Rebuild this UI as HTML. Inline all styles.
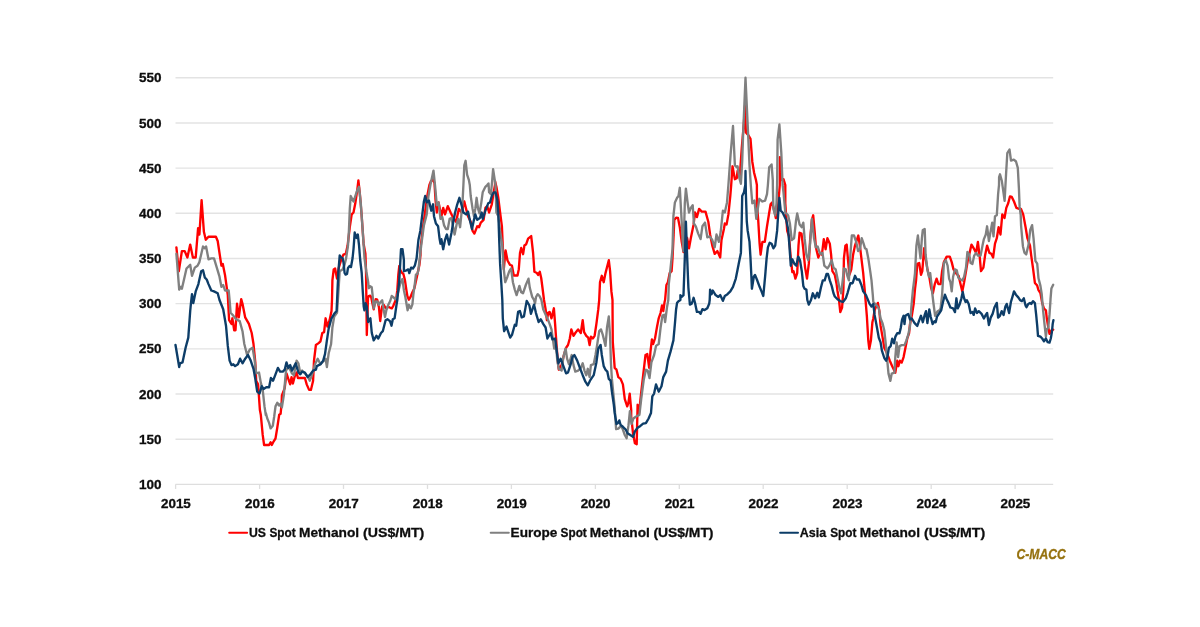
<!DOCTYPE html>
<html lang="en">
<head>
<meta charset="utf-8">
<title>Spot Methanol Prices</title>
<style>
html,body{margin:0;padding:0;background:#ffffff;}
body{width:1200px;height:627px;overflow:hidden;font-family:"Liberation Sans",Arial,sans-serif;}
svg{display:block;}
</style>
</head>
<body>
<svg width="1200" height="627" viewBox="0 0 1200 627">
<rect width="1200" height="627" fill="#ffffff"/>
<g stroke="#e3e3e3" stroke-width="1.4" fill="none">
<line x1="175.5" y1="439.18" x2="1053.2" y2="439.18"/>
<line x1="175.5" y1="394.00" x2="1053.2" y2="394.00"/>
<line x1="175.5" y1="348.83" x2="1053.2" y2="348.83"/>
<line x1="175.5" y1="303.65" x2="1053.2" y2="303.65"/>
<line x1="175.5" y1="258.48" x2="1053.2" y2="258.48"/>
<line x1="175.5" y1="213.30" x2="1053.2" y2="213.30"/>
<line x1="175.5" y1="168.13" x2="1053.2" y2="168.13"/>
<line x1="175.5" y1="122.95" x2="1053.2" y2="122.95"/>
<line x1="175.5" y1="77.78" x2="1053.2" y2="77.78"/>
</g>
<g stroke="#dedede" stroke-width="1.3" fill="none">
<line x1="175.5" y1="484.35" x2="1053.2" y2="484.35"/>
<line x1="175.6" y1="484.35" x2="175.6" y2="488.95"/>
<line x1="259.6" y1="484.35" x2="259.6" y2="488.95"/>
<line x1="343.5" y1="484.35" x2="343.5" y2="488.95"/>
<line x1="427.5" y1="484.35" x2="427.5" y2="488.95"/>
<line x1="511.4" y1="484.35" x2="511.4" y2="488.95"/>
<line x1="595.4" y1="484.35" x2="595.4" y2="488.95"/>
<line x1="679.3" y1="484.35" x2="679.3" y2="488.95"/>
<line x1="763.2" y1="484.35" x2="763.2" y2="488.95"/>
<line x1="847.2" y1="484.35" x2="847.2" y2="488.95"/>
<line x1="931.2" y1="484.35" x2="931.2" y2="488.95"/>
<line x1="1015.1" y1="484.35" x2="1015.1" y2="488.95"/>
</g>
<g font-family="'Liberation Sans', Arial, sans-serif" font-weight="bold" font-size="12.8px" fill="#0d0d0d" stroke="#0d0d0d" stroke-width="0.3">
<text x="161.6" y="489.0" text-anchor="end" textLength="22.5" lengthAdjust="spacingAndGlyphs">100</text>
<text x="161.6" y="443.8" text-anchor="end" textLength="22.5" lengthAdjust="spacingAndGlyphs">150</text>
<text x="161.6" y="398.6" text-anchor="end" textLength="22.5" lengthAdjust="spacingAndGlyphs">200</text>
<text x="161.6" y="353.4" text-anchor="end" textLength="22.5" lengthAdjust="spacingAndGlyphs">250</text>
<text x="161.6" y="308.3" text-anchor="end" textLength="22.5" lengthAdjust="spacingAndGlyphs">300</text>
<text x="161.6" y="263.1" text-anchor="end" textLength="22.5" lengthAdjust="spacingAndGlyphs">350</text>
<text x="161.6" y="217.9" text-anchor="end" textLength="22.5" lengthAdjust="spacingAndGlyphs">400</text>
<text x="161.6" y="172.7" text-anchor="end" textLength="22.5" lengthAdjust="spacingAndGlyphs">450</text>
<text x="161.6" y="127.6" text-anchor="end" textLength="22.5" lengthAdjust="spacingAndGlyphs">500</text>
<text x="161.6" y="82.4" text-anchor="end" textLength="22.5" lengthAdjust="spacingAndGlyphs">550</text>
<text x="175.9" y="508.0" text-anchor="middle" textLength="29.9" lengthAdjust="spacingAndGlyphs">2015</text>
<text x="259.9" y="508.0" text-anchor="middle" textLength="29.9" lengthAdjust="spacingAndGlyphs">2016</text>
<text x="343.8" y="508.0" text-anchor="middle" textLength="29.9" lengthAdjust="spacingAndGlyphs">2017</text>
<text x="427.8" y="508.0" text-anchor="middle" textLength="29.9" lengthAdjust="spacingAndGlyphs">2018</text>
<text x="511.7" y="508.0" text-anchor="middle" textLength="29.9" lengthAdjust="spacingAndGlyphs">2019</text>
<text x="595.6" y="508.0" text-anchor="middle" textLength="29.9" lengthAdjust="spacingAndGlyphs">2020</text>
<text x="679.6" y="508.0" text-anchor="middle" textLength="29.9" lengthAdjust="spacingAndGlyphs">2021</text>
<text x="763.5" y="508.0" text-anchor="middle" textLength="29.9" lengthAdjust="spacingAndGlyphs">2022</text>
<text x="847.5" y="508.0" text-anchor="middle" textLength="29.9" lengthAdjust="spacingAndGlyphs">2023</text>
<text x="931.5" y="508.0" text-anchor="middle" textLength="29.9" lengthAdjust="spacingAndGlyphs">2024</text>
<text x="1015.4" y="508.0" text-anchor="middle" textLength="29.9" lengthAdjust="spacingAndGlyphs">2025</text>
</g>
<defs><filter id="soft" x="-2%" y="-2%" width="104%" height="104%"><feGaussianBlur stdDeviation="0.35"/></filter></defs>
<g fill="none" stroke-width="2.35" stroke-linejoin="round" stroke-linecap="round" filter="url(#soft)">
<path stroke="#ff0000" d="M176.4 247.4 L178.8 271.2 L181.9 251.1 L184.7 251.1 L187.4 257.5 L190.2 244.6 L192.9 257.5 L195.7 257.5 L198.1 228.1 L199.4 234.5 L201.6 200.2 L203.9 231.8 L205.8 239.7 L208.5 236.7 L215.9 236.7 L217.7 241.0 L221.4 265.7 L222.8 263.9 L225.0 274.9 L227.8 295.1 L229.1 320.2 L231.5 323.9 L232.4 318.3 L234.2 330.3 L235.5 330.3 L237.0 303.7 L238.8 317.4 L241.2 299.1 L242.5 303.7 L245.2 317.4 L248.9 323.9 L251.7 333.0 L253.5 344.0 L255.3 362.4 L256.2 380.7 L258.1 384.4 L259.9 410.1 L260.8 414.7 L262.7 434.9 L264.1 445.0 L269.1 445.0 L270.6 442.2 L271.8 445.0 L273.7 441.3 L275.5 438.5 L277.3 427.5 L279.2 414.7 L280.6 413.8 L281.6 403.7 L281.9 395.4 L284.7 388.1 L286.5 373.4 L288.3 378.9 L290.2 384.4 L291.5 377.1 L292.9 383.5 L294.8 376.1 L296.6 372.5 L297.9 378.0 L304.9 378.0 L306.7 384.4 L309.1 389.9 L310.9 389.9 L313.1 380.7 L314.0 360.6 L315.9 345.0 L318.6 343.1 L320.5 341.3 L322.3 333.0 L324.1 332.1 L325.6 318.3 L327.4 326.6 L329.6 320.2 L331.5 311.0 L332.0 300.0 L332.4 280.4 L333.7 269.4 L335.1 268.5 L337.0 278.6 L338.8 267.6 L341.6 258.4 L343.4 254.7 L345.8 253.8 L347.6 245.6 L349.8 227.2 L351.7 214.4 L353.5 212.5 L355.3 203.3 L357.2 190.5 L358.4 180.4 L359.9 194.2 L361.7 216.2 L363.6 243.7 L365.4 253.8 L366.0 270.0 L366.8 335.0 L368.0 298.0 L368.7 296.2 L370.2 295.7 L371.2 297.2 L372.2 302.3 L373.7 309.3 L374.7 303.3 L375.7 299.2 L377.2 299.7 L378.2 304.3 L378.9 307.0 L380.2 321.0 L381.3 312.0 L382.2 306.3 L383.7 304.8 L385.2 307.3 L386.3 308.3 L388.3 306.8 L390.3 307.8 L391.8 308.3 L393.3 305.8 L394.8 302.3 L396.3 298.2 L397.3 290.2 L398.3 275.0 L399.3 266.0 L400.3 270.0 L401.8 272.6 L403.4 274.0 L404.9 280.0 L406.4 290.2 L407.4 296.2 L408.9 299.7 L410.4 297.2 L412.4 292.2 L414.4 288.2 L416.4 279.0 L417.9 272.0 L419.4 265.0 L420.5 255.0 L420.6 247.4 L423.0 227.2 L425.8 207.0 L427.6 194.2 L429.4 185.0 L431.0 181.0 L433.0 180.0 L434.5 183.0 L434.6 185.0 L435.5 199.7 L436.8 212.5 L438.6 202.4 L441.4 216.2 L443.2 207.9 L445.0 214.4 L447.8 206.1 L450.6 212.5 L453.3 218.0 L456.1 221.7 L458.8 208.9 L461.6 212.5 L464.3 201.5 L466.1 208.9 L468.0 216.2 L470.7 221.7 L472.6 230.9 L474.4 233.6 L477.2 226.3 L479.0 227.2 L480.8 222.6 L483.6 219.9 L485.4 207.9 L487.2 206.1 L489.1 212.5 L491.8 204.3 L493.7 192.3 L495.0 185.0 L495.0 181.0 L496.4 186.8 L498.3 197.8 L500.1 212.5 L501.9 226.3 L503.8 269.2 L505.6 250.5 L507.5 260.5 L510.0 264.9 L511.9 265.5 L513.8 275.5 L517.5 275.5 L518.8 269.2 L520.0 253.0 L521.2 248.0 L523.1 254.2 L524.4 245.5 L526.2 244.2 L528.1 238.6 L531.2 236.1 L533.1 253.0 L534.4 271.8 L536.9 273.0 L538.1 274.9 L539.8 271.8 L541.2 278.0 L542.5 288.0 L544.0 300.0 L545.6 309.2 L546.9 320.2 L548.2 312.8 L549.6 311.9 L551.5 318.3 L553.9 308.3 L555.1 323.9 L556.6 345.9 L557.9 362.4 L558.8 369.7 L561.6 365.1 L563.4 356.9 L566.1 347.7 L568.0 345.0 L569.8 338.5 L571.3 329.4 L573.5 335.8 L575.3 333.0 L578.1 329.4 L580.8 333.0 L582.7 320.2 L584.1 332.1 L586.3 335.8 L588.2 337.6 L589.6 345.0 L590.9 336.7 L592.8 338.5 L594.6 335.8 L596.4 323.9 L598.3 309.2 L599.2 300.0 L600.0 282.2 L601.8 275.8 L603.7 282.2 L605.5 273.1 L608.8 260.2 L610.1 271.2 L611.4 291.4 L612.5 300.0 L612.5 300.0 L612.6 318.3 L612.8 342.2 L614.7 367.9 L616.5 369.7 L618.3 377.1 L620.6 378.9 L622.9 384.4 L624.8 399.1 L627.2 406.4 L628.4 402.8 L629.7 393.6 L631.2 410.1 L631.2 416.7 L633.0 433.2 L634.9 443.3 L636.7 444.2 L637.6 404.8 L638.9 413.9 L641.3 391.7 L644.0 367.9 L645.5 355.0 L647.3 354.1 L649.2 367.9 L650.5 351.4 L651.9 339.4 L653.2 344.0 L655.0 338.5 L656.9 327.5 L658.7 318.3 L660.6 312.8 L662.0 305.5 L663.3 311.0 L664.6 301.8 L665.1 300.0 L666.4 285.0 L667.9 282.2 L669.7 273.1 L671.6 271.2 L672.5 258.4 L673.4 240.0 L674.3 219.9 L676.1 217.7 L678.0 218.0 L679.8 227.2 L681.7 241.9 L683.5 252.0 L685.3 236.4 L687.2 238.2 L689.0 248.3 L690.8 238.2 L693.6 224.4 L695.0 212.5 L696.9 217.1 L699.1 208.9 L701.8 211.6 L705.5 211.6 L708.3 221.7 L710.1 234.5 L712.3 245.6 L714.7 253.8 L717.4 251.1 L720.2 257.5 L721.5 240.0 L723.9 229.0 L724.8 223.5 L726.6 224.4 L728.4 214.4 L730.3 196.0 L731.2 185.0 L732.5 166.3 L734.9 179.2 L736.7 178.3 L737.6 170.9 L739.8 176.4 L741.7 148.9 L744.0 121.4 L745.0 105.8 L745.9 132.4 L748.3 135.1 L750.5 138.8 L752.3 161.7 L754.1 172.8 L756.0 180.1 L756.9 185.0 L756.9 203.3 L758.2 219.9 L759.6 243.7 L760.6 254.7 L762.4 241.9 L764.8 241.9 L767.0 226.3 L768.8 215.3 L770.6 204.3 L772.1 202.4 L774.3 210.7 L775.8 218.0 L777.1 217.1 L778.9 196.0 L779.8 185.0 L779.9 157.2 L780.7 180.1 L783.5 179.2 L785.3 185.0 L785.3 203.3 L787.2 230.9 L789.0 236.4 L790.8 258.4 L792.3 272.2 L793.6 271.2 L795.4 278.6 L797.2 273.1 L798.5 245.6 L799.6 232.7 L801.5 233.6 L803.3 249.2 L805.1 267.6 L807.0 278.6 L808.8 263.9 L810.1 240.0 L811.9 219.9 L813.2 215.3 L814.6 230.9 L815.9 247.4 L818.3 257.5 L820.1 252.9 L821.9 254.7 L823.8 239.1 L825.6 249.2 L827.4 238.2 L829.8 243.7 L831.1 254.7 L832.4 271.2 L834.8 274.9 L836.6 284.1 L837.5 291.0 L839.0 300.2 L840.3 312.1 L842.1 307.5 L843.4 289.2 L843.9 258.4 L845.4 245.6 L846.7 244.6 L848.2 262.1 L849.4 274.9 L851.3 269.4 L853.1 254.7 L855.0 245.6 L856.8 240.0 L858.3 235.5 L859.9 245.6 L861.4 258.4 L863.2 273.1 L865.0 293.3 L866.9 316.7 L868.3 340.6 L869.3 348.8 L870.9 340.6 L872.4 322.2 L873.3 318.5 L874.6 310.3 L876.4 305.7 L877.9 302.9 L879.4 311.2 L880.6 325.9 L882.5 336.9 L884.3 347.9 L887.1 353.4 L889.8 360.7 L892.2 366.2 L894.0 369.9 L895.3 372.7 L897.2 360.7 L898.4 366.2 L899.9 360.7 L901.7 362.6 L903.6 357.1 L905.4 347.9 L907.2 338.7 L909.1 333.2 L910.0 324.0 L911.8 315.8 L913.7 303.9 L915.0 289.2 L916.1 280.0 L917.3 263.9 L919.2 263.0 L921.0 274.9 L922.3 271.2 L924.1 248.3 L925.6 258.4 L927.4 269.4 L929.3 276.7 L931.1 287.8 L932.9 293.3 L934.8 284.1 L936.6 278.6 L938.4 284.1 L940.6 284.1 L942.1 271.2 L943.9 262.1 L946.7 256.6 L949.8 256.6 L951.7 262.1 L953.5 269.4 L955.9 273.1 L958.6 275.8 L960.5 284.1 L962.3 291.4 L964.1 282.2 L966.0 271.2 L967.8 260.2 L969.6 252.9 L971.5 244.6 L974.2 249.2 L976.1 252.9 L977.9 241.9 L979.7 256.6 L981.0 271.2 L983.4 267.6 L985.2 254.7 L987.1 245.6 L989.4 252.9 L991.3 253.8 L993.1 257.5 L995.0 243.7 L996.8 238.2 L998.6 227.2 L1000.5 234.5 L1002.3 214.4 L1004.5 218.0 L1006.3 207.9 L1008.2 203.3 L1010.0 196.4 L1011.8 196.9 L1014.0 201.5 L1016.4 207.9 L1019.2 208.9 L1021.0 208.9 L1023.2 214.4 L1025.6 227.2 L1027.4 238.2 L1030.0 245.6 L1031.2 255.4 L1033.0 268.2 L1034.9 282.9 L1037.2 285.6 L1038.5 290.2 L1040.4 293.0 L1042.2 303.1 L1044.0 308.6 L1045.9 310.4 L1046.8 318.3 L1048.3 327.5 L1049.5 333.9 L1051.4 330.3 L1053.2 329.7"/>
<path stroke="#808080" d="M176.4 253.8 L179.2 289.6 L181.0 286.8 L181.9 288.7 L186.5 268.5 L190.2 264.8 L192.0 275.8 L194.8 267.6 L197.5 265.7 L199.4 262.1 L203.0 246.5 L204.9 248.3 L206.1 246.5 L208.5 259.3 L211.3 258.4 L214.0 258.4 L216.8 267.6 L219.5 276.7 L221.4 286.8 L223.2 285.0 L225.0 290.5 L228.7 290.5 L229.6 300.0 L230.6 312.8 L233.3 315.6 L236.1 319.3 L239.7 321.1 L242.5 331.2 L244.3 344.0 L247.1 355.0 L249.8 349.5 L252.6 347.7 L254.4 358.7 L256.2 373.4 L259.0 372.5 L260.8 382.6 L262.7 389.9 L264.5 406.4 L265.8 415.0 L265.8 412.8 L267.2 418.3 L269.1 422.9 L270.6 428.4 L272.8 425.7 L274.2 416.5 L275.5 406.4 L277.3 402.8 L279.2 405.5 L280.6 403.7 L281.9 407.3 L283.8 395.4 L286.0 370.6 L288.3 367.0 L290.2 369.7 L292.0 373.4 L293.9 375.2 L296.6 360.6 L298.4 363.3 L300.3 373.4 L302.1 370.6 L304.9 373.4 L307.6 376.1 L309.8 380.7 L312.2 374.3 L315.0 364.2 L317.7 358.7 L320.5 364.2 L323.2 361.5 L325.6 358.7 L326.9 367.0 L328.7 353.2 L331.1 344.0 L332.4 327.5 L334.2 316.5 L337.0 312.8 L337.9 300.0 L339.7 271.2 L342.5 269.4 L344.3 265.7 L346.1 258.4 L348.0 245.6 L348.9 230.9 L349.8 208.9 L350.7 196.0 L353.5 201.5 L355.3 196.0 L357.2 190.5 L359.0 186.8 L360.8 203.3 L362.7 230.9 L364.5 258.4 L366.3 271.2 L368.2 282.2 L368.7 288.2 L370.2 286.2 L371.7 287.2 L372.7 296.2 L373.7 308.3 L374.7 304.3 L375.7 301.3 L377.2 301.3 L378.7 304.8 L380.3 302.3 L382.2 300.3 L383.7 310.0 L385.0 317.0 L386.4 310.0 L388.2 305.0 L390.2 301.0 L391.7 296.0 L393.3 297.2 L395.3 299.2 L396.8 297.2 L400.4 283.2 L402.4 279.0 L403.9 290.2 L405.4 297.2 L406.9 306.3 L407.6 310.3 L408.9 304.8 L409.9 307.3 L410.9 308.3 L412.4 304.3 L413.4 294.2 L414.9 283.2 L415.9 274.6 L417.4 274.0 L418.4 270.0 L421.2 245.6 L423.9 225.4 L426.7 214.4 L428.5 196.0 L430.4 185.0 L433.5 170.6 L435.0 185.0 L436.8 205.2 L438.6 202.4 L440.5 218.9 L442.3 217.1 L444.1 225.4 L446.0 229.0 L447.8 229.0 L449.6 218.9 L451.5 218.0 L453.3 228.1 L454.6 234.5 L457.0 222.6 L458.3 218.9 L460.1 227.2 L462.5 203.3 L463.4 185.0 L464.3 165.4 L465.6 160.8 L467.1 174.6 L468.9 180.1 L469.8 185.0 L470.7 196.0 L472.6 208.9 L474.0 216.2 L475.3 208.9 L476.6 197.8 L478.1 208.9 L479.5 213.4 L481.2 203.3 L482.7 192.3 L485.4 186.8 L487.2 185.0 L488.5 183.4 L489.1 192.3 L490.9 194.2 L491.8 185.0 L493.1 169.1 L495.5 185.0 L496.4 212.5 L498.3 216.2 L500.1 230.9 L502.3 245.6 L503.8 269.4 L505.2 282.2 L507.4 276.7 L509.3 271.2 L511.1 268.5 L512.9 282.2 L514.8 289.6 L516.6 295.1 L519.4 285.9 L521.2 292.3 L523.0 293.3 L525.8 285.0 L528.5 278.6 L529.8 287.8 L532.2 296.9 L534.0 300.0 L535.0 303.5 L536.0 297.0 L537.7 294.2 L539.5 296.0 L541.4 300.0 L543.2 309.2 L546.0 315.6 L547.8 319.3 L549.6 323.9 L551.5 329.4 L552.9 339.4 L554.2 348.6 L556.1 346.8 L557.3 360.6 L558.8 368.8 L561.6 370.6 L563.4 356.9 L565.6 348.6 L567.1 358.7 L568.9 364.2 L571.7 355.0 L573.5 365.1 L575.3 371.6 L578.1 370.6 L580.8 367.9 L582.7 363.3 L584.5 370.6 L586.3 375.2 L587.8 368.8 L589.6 377.1 L590.9 365.1 L593.7 364.2 L595.5 355.0 L597.3 344.0 L599.2 331.2 L601.0 329.4 L602.8 334.9 L605.5 345.9 L607.0 327.5 L608.8 316.5 L610.1 336.7 L611.0 364.2 L611.9 378.9 L614.7 407.5 L616.1 429.2 L618.3 428.6 L621.1 425.9 L622.9 429.5 L624.8 435.0 L626.6 438.3 L628.4 425.9 L629.9 411.2 L631.6 424.0 L633.4 418.5 L635.8 416.7 L637.6 415.8 L639.4 414.9 L641.3 398.3 L643.7 380.0 L645.9 369.7 L647.7 370.6 L649.5 378.0 L651.4 362.4 L654.1 355.0 L656.0 345.9 L658.7 344.0 L660.6 327.5 L662.4 315.6 L664.2 314.7 L665.1 322.0 L667.0 307.3 L668.3 300.0 L668.8 284.1 L670.6 267.6 L672.5 249.2 L673.4 216.2 L674.9 202.4 L677.1 197.8 L678.5 196.0 L679.8 187.8 L681.7 221.7 L682.6 240.0 L683.5 251.1 L684.8 203.3 L685.9 188.7 L687.7 203.3 L689.0 212.5 L690.8 207.9 L692.7 205.2 L693.9 223.5 L695.8 226.3 L698.2 233.6 L700.6 239.1 L702.4 226.3 L705.0 222.6 L707.3 237.3 L709.7 236.4 L712.3 240.0 L714.7 247.4 L716.5 234.5 L718.9 241.9 L720.7 231.8 L722.9 210.7 L724.8 212.5 L727.0 202.4 L728.4 185.0 L730.6 154.4 L733.0 126.0 L734.9 165.4 L736.7 167.2 L737.6 166.3 L739.4 178.3 L740.9 183.8 L742.2 161.7 L743.1 134.2 L745.5 77.7 L747.7 125.0 L749.5 165.4 L750.8 185.0 L752.3 203.3 L754.5 200.6 L756.3 218.9 L759.3 198.8 L762.4 201.5 L765.1 200.6 L767.0 194.2 L767.9 185.0 L769.2 167.2 L771.6 164.5 L772.8 180.1 L772.9 188.7 L773.4 208.9 L775.2 215.3 L776.5 203.3 L777.1 185.0 L777.6 139.7 L779.4 124.5 L781.3 152.6 L782.6 185.0 L783.5 192.3 L785.3 212.5 L788.1 215.3 L789.9 223.5 L791.7 240.0 L794.1 238.2 L796.0 220.8 L797.2 213.4 L799.6 224.4 L801.8 227.2 L803.3 222.6 L804.6 238.2 L806.4 254.7 L808.3 260.2 L810.1 243.7 L811.9 218.9 L814.0 238.2 L815.9 247.4 L817.7 246.5 L820.1 253.8 L822.5 252.9 L824.3 265.7 L827.4 268.5 L829.3 265.7 L831.7 260.2 L833.5 267.6 L835.7 269.4 L837.5 278.6 L839.4 287.8 L841.2 293.3 L842.7 280.4 L843.9 268.5 L845.8 269.4 L847.6 276.7 L848.9 280.4 L850.4 254.7 L851.8 235.5 L854.0 235.5 L856.2 241.9 L858.1 251.1 L859.9 249.2 L861.7 238.2 L863.6 243.7 L865.0 248.3 L866.5 249.2 L868.3 258.4 L870.2 271.2 L871.5 280.4 L872.8 295.1 L873.3 302.0 L876.1 304.8 L878.8 308.4 L880.6 318.5 L882.5 323.1 L884.3 330.5 L885.6 342.4 L887.1 358.9 L888.5 373.6 L890.4 380.9 L891.7 373.6 L894.4 372.7 L895.3 357.1 L896.6 342.4 L898.1 357.1 L899.5 346.1 L901.7 345.1 L904.5 345.1 L906.3 340.6 L908.2 335.0 L910.0 325.9 L911.3 307.5 L912.8 291.0 L914.2 280.0 L915.0 273.1 L916.4 245.6 L917.9 235.5 L919.2 247.4 L920.5 258.4 L921.9 238.2 L922.8 230.0 L924.7 229.0 L925.6 254.7 L927.4 269.4 L928.9 276.7 L930.2 273.1 L931.5 284.1 L932.0 291.0 L933.3 302.0 L935.1 315.8 L937.5 311.2 L939.4 310.3 L940.6 308.4 L942.1 294.7 L943.0 280.0 L943.1 276.7 L943.9 263.0 L945.8 260.2 L947.6 265.7 L949.1 278.6 L950.4 282.2 L951.7 291.4 L953.1 276.7 L955.0 269.4 L956.8 270.3 L958.3 277.7 L960.5 279.5 L962.3 280.4 L964.1 276.7 L966.0 267.6 L967.4 252.0 L969.3 254.7 L970.6 263.0 L972.4 263.9 L974.2 255.6 L976.1 252.9 L977.9 255.6 L980.6 255.6 L982.5 245.6 L983.9 239.1 L985.8 234.5 L987.1 226.3 L988.9 241.0 L990.7 230.9 L992.2 222.6 L993.5 236.4 L995.0 216.2 L996.8 215.3 L998.1 194.2 L999.0 185.0 L999.0 186.2 L999.1 177.1 L1000.0 174.3 L1001.8 180.7 L1003.1 189.9 L1004.6 200.9 L1006.1 173.4 L1007.3 153.2 L1009.5 149.5 L1011.0 160.6 L1013.8 159.6 L1016.0 161.5 L1017.8 167.9 L1018.9 188.1 L1019.6 206.4 L1020.7 215.0 L1021.1 226.0 L1022.9 246.2 L1024.4 252.6 L1026.2 254.4 L1028.4 245.3 L1030.3 229.7 L1032.1 225.1 L1033.6 238.9 L1035.4 260.9 L1037.2 263.6 L1038.5 278.3 L1040.4 285.6 L1041.7 293.9 L1043.1 310.4 L1044.6 325.1 L1045.9 336.7 L1046.8 329.4 L1048.3 327.5 L1049.5 314.7 L1050.5 300.0 L1050.5 299.4 L1051.4 288.4 L1053.2 284.7"/>
<path stroke="#0b3c67" d="M175.5 345.0 L179.2 367.0 L180.1 363.3 L182.5 362.4 L185.6 347.7 L188.3 337.6 L190.2 311.0 L191.1 301.8 L192.0 294.2 L193.3 303.0 L195.7 291.4 L198.4 284.1 L201.2 271.2 L203.0 270.3 L204.9 277.7 L206.7 279.5 L208.5 284.1 L211.3 290.5 L214.0 291.4 L217.7 293.3 L219.5 300.0 L223.2 309.2 L226.0 325.7 L227.8 345.9 L229.6 360.6 L231.5 365.1 L233.3 364.2 L235.1 366.1 L237.9 364.2 L240.1 358.7 L242.5 363.3 L245.2 358.7 L248.0 355.0 L250.7 360.6 L253.5 368.8 L255.3 378.9 L257.2 391.7 L259.5 393.6 L261.7 386.2 L263.6 389.0 L266.3 387.2 L269.1 387.2 L270.9 378.0 L273.1 380.7 L275.5 374.3 L277.9 367.9 L280.1 371.6 L282.8 371.6 L284.7 369.7 L286.5 362.4 L288.3 367.9 L290.2 365.1 L292.0 370.6 L295.7 363.3 L298.4 372.5 L300.3 374.3 L302.1 371.6 L304.9 372.5 L307.6 377.1 L310.4 374.3 L313.1 370.6 L315.9 369.7 L316.8 366.1 L320.5 364.2 L323.2 360.6 L325.0 354.1 L326.9 340.4 L328.7 328.4 L331.5 318.3 L334.2 313.8 L336.6 311.0 L336.7 309.3 L337.5 290.2 L338.5 270.0 L339.7 255.5 L341.0 257.5 L342.6 258.0 L343.6 263.0 L344.6 273.0 L345.6 274.6 L347.0 274.0 L348.0 268.0 L349.6 266.0 L351.0 267.0 L352.6 258.0 L353.6 248.0 L354.7 232.5 L356.5 238.0 L357.8 234.5 L359.0 245.0 L360.2 260.0 L361.7 273.0 L362.7 290.2 L363.7 306.3 L364.4 310.3 L365.7 303.3 L366.7 306.3 L368.2 322.0 L370.4 318.3 L371.8 333.0 L373.7 340.4 L376.4 335.8 L378.3 338.5 L381.0 333.0 L382.8 331.2 L385.6 320.2 L387.4 319.3 L390.0 321.1 L391.5 325.7 L392.8 319.3 L394.6 318.3 L396.4 305.5 L397.3 300.0 L399.3 280.0 L400.4 260.0 L401.0 249.2 L402.5 249.2 L403.9 260.0 L403.9 271.2 L406.5 270.3 L408.3 269.4 L409.3 273.1 L411.1 267.6 L412.9 268.5 L414.8 265.7 L416.6 258.4 L418.4 240.0 L420.3 230.9 L422.1 216.2 L423.9 201.5 L425.2 196.0 L426.7 202.4 L428.9 200.6 L431.3 210.7 L433.1 204.3 L434.0 216.2 L435.9 223.5 L438.1 226.3 L439.5 238.2 L440.5 243.7 L441.4 239.1 L443.2 249.2 L445.0 240.0 L446.9 234.5 L449.1 244.6 L451.5 232.7 L453.3 221.7 L455.1 212.5 L457.0 205.2 L459.4 197.8 L461.6 205.2 L463.4 212.5 L466.1 214.4 L468.0 211.6 L469.8 219.9 L472.0 229.0 L473.5 221.7 L475.3 214.4 L477.2 219.9 L479.9 218.0 L481.7 212.5 L482.7 218.9 L485.4 210.7 L488.2 203.3 L490.0 202.4 L491.8 196.0 L493.7 192.3 L495.5 192.3 L497.3 199.7 L498.3 212.5 L499.2 240.0 L500.1 263.9 L501.6 287.8 L502.3 300.0 L502.8 318.3 L504.1 331.2 L506.5 326.6 L508.3 332.1 L510.2 337.6 L512.0 334.9 L514.8 324.8 L516.2 325.7 L518.1 311.9 L519.9 311.0 L521.7 317.4 L523.9 316.5 L526.7 300.9 L529.4 305.5 L530.9 313.8 L534.0 304.6 L535.9 312.8 L538.6 322.0 L540.8 319.3 L543.2 323.9 L545.6 327.5 L547.4 338.5 L550.6 333.0 L552.4 339.4 L555.1 338.5 L557.0 353.2 L558.4 363.3 L560.6 358.7 L563.4 366.1 L566.1 373.4 L568.0 372.5 L570.7 364.2 L572.6 356.9 L574.4 355.0 L577.2 360.6 L579.9 367.9 L582.7 375.2 L585.4 381.7 L587.8 385.3 L590.0 380.7 L593.7 375.2 L596.4 362.4 L598.3 348.6 L600.6 345.0 L601.8 355.0 L603.7 366.1 L605.5 369.7 L607.3 371.6 L608.8 378.9 L610.6 380.7 L611.9 391.7 L613.8 404.6 L614.7 413.0 L616.5 424.0 L618.0 423.1 L619.3 420.4 L620.6 425.0 L622.9 426.8 L625.7 429.5 L627.5 433.2 L630.3 435.0 L633.0 436.9 L634.9 431.4 L637.6 427.7 L640.4 425.9 L643.1 423.7 L645.9 423.1 L648.6 418.5 L651.0 413.0 L652.3 396.3 L654.1 393.6 L656.0 384.4 L658.7 391.7 L661.5 386.2 L663.3 377.1 L666.1 371.6 L667.9 360.6 L670.6 351.4 L673.4 340.4 L674.9 323.9 L676.1 309.2 L677.1 302.8 L678.9 300.9 L680.4 300.0 L680.4 295.1 L681.7 296.9 L683.5 295.1 L684.8 258.4 L685.9 221.7 L687.2 258.4 L688.4 287.8 L689.5 300.0 L689.9 304.6 L691.7 303.7 L692.7 300.9 L693.6 297.8 L695.0 302.8 L696.9 311.9 L699.1 311.9 L700.6 313.8 L702.4 309.2 L704.6 310.1 L707.3 308.3 L709.2 303.7 L709.7 300.0 L710.1 289.6 L711.6 294.2 L712.8 290.5 L715.6 295.1 L718.3 296.9 L720.2 295.1 L722.0 298.8 L722.9 300.9 L724.8 296.0 L727.5 294.2 L730.3 291.4 L733.0 286.8 L735.8 278.6 L737.6 269.4 L739.4 260.2 L740.9 252.9 L741.7 221.7 L742.2 196.0 L744.0 192.3 L745.3 185.0 L745.5 170.9 L745.9 194.2 L746.8 221.7 L747.7 230.9 L749.5 241.9 L750.5 258.4 L751.4 276.7 L751.9 288.7 L753.8 276.7 L755.0 274.9 L756.9 279.5 L759.6 286.8 L761.5 291.4 L763.3 296.0 L765.1 276.7 L766.6 258.4 L767.9 247.4 L769.7 242.8 L771.6 243.7 L773.4 248.3 L775.2 245.6 L777.1 230.9 L778.3 212.5 L779.4 197.8 L780.7 210.7 L782.6 212.5 L784.4 216.2 L786.2 219.9 L788.1 229.0 L789.4 245.6 L790.8 265.7 L792.3 259.3 L794.5 263.9 L796.3 265.7 L798.2 256.6 L800.0 260.2 L801.8 271.2 L803.3 285.9 L804.6 288.7 L806.4 289.6 L807.3 300.0 L808.8 304.6 L811.0 300.0 L812.8 293.3 L815.1 298.3 L817.3 292.8 L818.8 297.4 L821.0 287.3 L822.8 280.4 L824.7 280.4 L826.5 274.0 L828.0 274.0 L829.8 280.4 L831.7 285.9 L833.5 293.3 L834.8 296.5 L837.5 299.3 L840.3 301.1 L843.0 302.0 L845.8 298.3 L847.6 292.8 L849.4 286.4 L850.4 283.2 L852.6 283.2 L855.0 275.8 L856.8 279.5 L859.2 279.5 L861.4 285.0 L863.2 291.4 L866.0 295.1 L866.9 297.4 L869.6 303.9 L871.5 306.6 L873.3 303.9 L874.6 314.9 L877.0 327.7 L878.8 337.8 L880.6 342.4 L881.9 350.6 L884.3 358.0 L886.1 360.7 L887.4 357.1 L888.9 347.9 L890.7 346.1 L892.2 338.7 L894.0 343.3 L895.3 336.9 L897.2 333.2 L899.5 333.2 L900.8 327.7 L902.1 319.4 L903.6 315.8 L904.5 324.0 L905.4 315.8 L908.2 313.9 L910.0 319.4 L911.8 318.5 L914.6 323.1 L917.3 325.9 L919.2 320.4 L921.0 315.8 L922.8 322.2 L924.7 314.9 L926.0 311.2 L927.4 323.1 L929.3 309.4 L930.7 316.7 L932.6 324.0 L934.4 321.3 L935.7 322.2 L937.0 316.7 L939.4 313.0 L941.2 310.3 L943.0 302.0 L944.9 294.7 L946.7 299.3 L948.5 302.9 L950.4 307.5 L953.1 308.4 L955.0 312.1 L956.4 298.3 L957.7 308.4 L959.5 304.8 L961.4 298.3 L962.7 291.9 L964.1 298.3 L965.6 302.0 L966.9 300.2 L968.7 303.9 L970.6 313.0 L972.4 312.1 L973.7 314.9 L975.1 308.4 L977.0 313.0 L978.8 311.2 L981.6 313.9 L983.9 318.5 L985.8 314.9 L987.1 313.0 L988.9 325.0 L990.7 317.6 L992.6 313.9 L994.4 307.5 L996.8 302.9 L998.1 317.6 L999.9 315.8 L1001.7 311.2 L1003.6 314.9 L1005.4 306.6 L1006.7 303.9 L1009.1 313.0 L1010.9 302.0 L1012.8 295.6 L1014.0 291.4 L1015.9 294.7 L1018.3 297.4 L1020.1 300.2 L1021.9 301.1 L1023.8 298.3 L1025.6 305.7 L1026.5 307.2 L1028.3 303.9 L1030.0 302.9 L1031.2 304.0 L1033.0 301.2 L1034.9 303.1 L1036.1 314.1 L1037.2 325.7 L1038.0 335.8 L1040.4 336.7 L1042.2 338.5 L1044.0 341.3 L1045.9 338.5 L1047.7 342.2 L1049.5 342.6 L1050.8 338.5 L1051.9 332.1 L1052.7 323.9 L1053.4 320.2"/>
</g>
<g stroke-width="2.0" fill="none" stroke-linecap="round">
<line x1="229.2" y1="532.75" x2="247.1" y2="532.75" stroke="#ff0000"/>
<line x1="490.7" y1="532.75" x2="508.8" y2="532.75" stroke="#808080"/>
<line x1="780.1" y1="532.75" x2="798.0" y2="532.75" stroke="#0b3c67"/>
</g>
<g font-family="'Liberation Sans', Arial, sans-serif" font-weight="bold" font-size="13px" fill="#0d0d0d" stroke="#0d0d0d" stroke-width="0.3">
<text y="536.75"><tspan x="249.0" textLength="17.0" lengthAdjust="spacingAndGlyphs">US</tspan> <tspan x="269.4" textLength="26.2" lengthAdjust="spacingAndGlyphs">Spot</tspan> <tspan x="299.0" textLength="60.1" lengthAdjust="spacingAndGlyphs">Methanol</tspan> <tspan x="363.1" textLength="61.2" lengthAdjust="spacingAndGlyphs">(US$/MT)</tspan></text>
<text y="536.75"><tspan x="510.6" textLength="46.7" lengthAdjust="spacingAndGlyphs">Europe</tspan> <tspan x="560.6" textLength="26.2" lengthAdjust="spacingAndGlyphs">Spot</tspan> <tspan x="589.8" textLength="60.0" lengthAdjust="spacingAndGlyphs">Methanol</tspan> <tspan x="653.4" textLength="60.1" lengthAdjust="spacingAndGlyphs">(US$/MT)</tspan></text>
<text y="536.75"><tspan x="799.7" textLength="26.4" lengthAdjust="spacingAndGlyphs">Asia</tspan> <tspan x="830.2" textLength="26.2" lengthAdjust="spacingAndGlyphs">Spot</tspan> <tspan x="859.8" textLength="60.2" lengthAdjust="spacingAndGlyphs">Methanol</tspan> <tspan x="924.0" textLength="61.2" lengthAdjust="spacingAndGlyphs">(US$/MT)</tspan></text>
</g>
<text x="1016.5" y="558.8" font-family="'Liberation Sans', Arial, sans-serif" font-weight="bold" font-style="italic" font-size="13.8px" fill="#96720f" stroke="#96720f" stroke-width="0.3" textLength="49.4" lengthAdjust="spacingAndGlyphs">C-MACC</text>
</svg>
</body>
</html>
